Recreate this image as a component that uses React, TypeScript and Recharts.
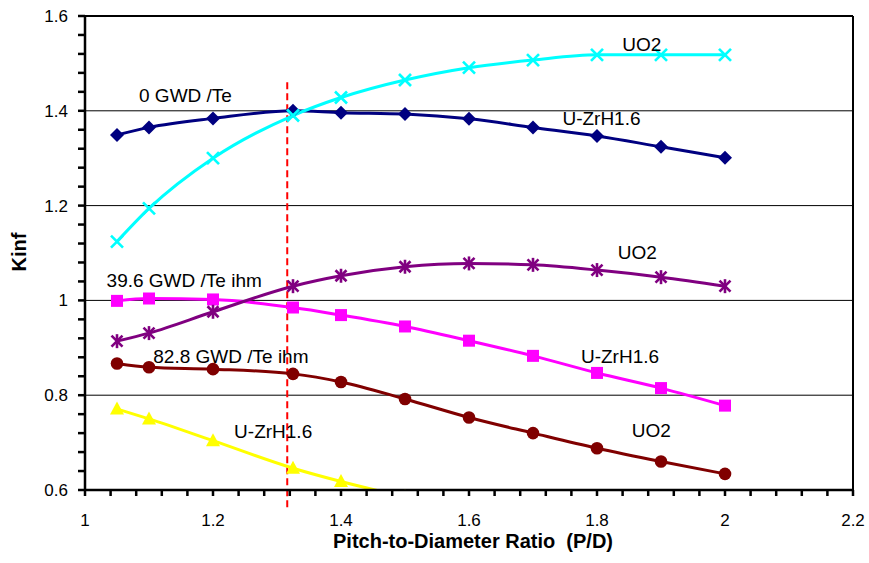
import React from 'react';
import { LineChart, Line, XAxis, YAxis, ReferenceLine, ReferenceDot } from 'recharts';

const FONT = '"Liberation Sans", Arial, Helvetica, sans-serif';

// P/D values
const pitchRatios = [1.05, 1.1, 1.2, 1.325, 1.4, 1.5, 1.6, 1.7, 1.8, 1.9, 2.0];
// 0 GWD/Te
const uzrh0 = [1.349, 1.365, 1.384, 1.400, 1.396, 1.393, 1.383, 1.365, 1.347, 1.324, 1.301];
const uo20 = [1.124, 1.194, 1.300, 1.390, 1.428, 1.465, 1.491, 1.507, 1.518, 1.518, 1.518];
// 39.6 GWD/Te ihm
const uzrh396 = [0.999, 1.004, 1.002, 0.985, 0.969, 0.945, 0.915, 0.883, 0.847, 0.815, 0.778];
const uo2396 = [0.914, 0.931, 0.976, 1.030, 1.052, 1.071, 1.078, 1.075, 1.064, 1.049, 1.030];
// 82.8 GWD/Te ihm
const uo2828 = [0.867, 0.859, 0.855, 0.845, 0.828, 0.792, 0.753, 0.720, 0.688, 0.660, 0.634];
const uzrh828 = [0.771, 0.750, 0.704, 0.646, 0.618, 0.585, null, null, null, null, null];

const xTicks = [1, 1.04, 1.08, 1.12, 1.16, 1.2, 1.24, 1.28, 1.32, 1.36, 1.4, 1.44, 1.48, 1.52, 1.56, 1.6,
  1.64, 1.68, 1.72, 1.76, 1.8, 1.84, 1.88, 1.92, 1.96, 2, 2.04, 2.08, 2.12, 2.16, 2.2];
const xMajor = [1, 1.2, 1.4, 1.6, 1.8, 2, 2.2];
const xLabels = ['1', '1.2', '1.4', '1.6', '1.8', '2', '2.2'];

const yTicks = [0.6, 0.64, 0.68, 0.72, 0.76, 0.8, 0.84, 0.88, 0.92, 0.96, 1, 1.04, 1.08, 1.12, 1.16, 1.2,
  1.24, 1.28, 1.32, 1.36, 1.4, 1.44, 1.48, 1.52, 1.56, 1.6];
const yMajor = [0.6, 0.8, 1, 1.2, 1.4, 1.6];
const yLabels = ['0.6', '0.8', '1', '1.2', '1.4', '1.6'];

const gridValues = [0.8, 1.0, 1.2, 1.4];
const markerLine = 1.316;
const markerLineSpan = [1.46, 0.558];

const annotations = [
  { text: '0 GWD /Te', x: 1.157, y: 1.433 },
  { text: 'UO2', x: 1.870, y: 1.540 },
  { text: 'U-ZrH1.6', x: 1.807, y: 1.385 },
  { text: 'UO2', x: 1.863, y: 1.101 },
  { text: '39.6 GWD /Te ihm', x: 1.155, y: 1.042 },
  { text: 'U-ZrH1.6', x: 1.836, y: 0.882 },
  { text: '82.8 GWD /Te ihm', x: 1.228, y: 0.883 },
  { text: 'UO2', x: 1.885, y: 0.725 },
  { text: 'U-ZrH1.6', x: 1.294, y: 0.723 },
];

const data = pitchRatios.map((x, i) => ({
  x,
  uzrh0: uzrh0[i],
  uo20: uo20[i],
  uzrh396: uzrh396[i],
  uo2396: uo2396[i],
  uo2828: uo2828[i],
  uzrh828: uzrh828[i],
}));

const lookup = (majors: number[], labels: string[], v: number) => {
  const idx = majors.findIndex((m) => Math.abs(m - v) < 1e-6);
  return idx >= 0 ? labels[idx] : '';
};

const XTick = (props: any) => {
  const { x, y, payload } = props;
  const label = lookup(xMajor, xLabels, payload.value);
  return (
    <g>
      <rect x={x - 1.25} y={y} width={2.5} height={6} fill="#000" />
      {label ? (
        <text x={x} y={y + 36} textAnchor="middle" fontSize={17} fill="#000" fontFamily={FONT}>
          {label}
        </text>
      ) : null}
    </g>
  );
};

const YTick = (props: any) => {
  const { x, y, payload } = props;
  const label = lookup(yMajor, yLabels, payload.value);
  return (
    <g>
      <rect x={x - 7} y={y - 1.25} width={7} height={2.5} fill="#000" />
      {label ? (
        <text x={x - 17} y={y + 6} textAnchor="end" fontSize={17} fill="#000" fontFamily={FONT}>
          {label}
        </text>
      ) : null}
    </g>
  );
};

type Shape = 'diamond' | 'x' | 'square' | 'asterisk' | 'circle' | 'triangle';

const makeDot = (shape: Shape, color: string) => (props: any) => {
  const { cx, cy, index } = props;
  const key = `d-${shape}-${index}`;
  if (cx == null || cy == null || isNaN(cx) || isNaN(cy)) return <g key={key} />;
  switch (shape) {
    case 'diamond':
      return (
        <polygon key={key} points={`${cx},${cy - 7} ${cx + 7},${cy} ${cx},${cy + 7} ${cx - 7},${cy}`} fill={color} />
      );
    case 'x':
      return (
        <g key={key} stroke={color} strokeWidth={2.6}>
          <line x1={cx - 6} y1={cy - 6} x2={cx + 6} y2={cy + 6} />
          <line x1={cx - 6} y1={cy + 6} x2={cx + 6} y2={cy - 6} />
        </g>
      );
    case 'square':
      return <rect key={key} x={cx - 6} y={cy - 6} width={12} height={12} fill={color} />;
    case 'asterisk':
      return (
        <g key={key} stroke={color} strokeWidth={2.6}>
          <line x1={cx - 5.5} y1={cy - 5.5} x2={cx + 5.5} y2={cy + 5.5} />
          <line x1={cx - 5.5} y1={cy + 5.5} x2={cx + 5.5} y2={cy - 5.5} />
          <line x1={cx} y1={cy - 7} x2={cx} y2={cy + 7} />
        </g>
      );
    case 'circle':
      return <circle key={key} cx={cx} cy={cy} r={6.3} fill={color} />;
    case 'triangle':
    default:
      return (
        <polygon key={key} points={`${cx},${cy - 7.5} ${cx + 7},${cy + 5.5} ${cx - 7},${cy + 5.5}`} fill={color} />
      );
  }
};

const series: { key: string; color: string; shape: Shape }[] = [
  { key: 'uzrh0', color: '#000080', shape: 'diamond' },
  { key: 'uo20', color: '#00FFFF', shape: 'x' },
  { key: 'uzrh396', color: '#FF00FF', shape: 'square' },
  { key: 'uo2396', color: '#800080', shape: 'asterisk' },
  { key: 'uo2828', color: '#800000', shape: 'circle' },
  { key: 'uzrh828', color: '#FFFF00', shape: 'triangle' },
];

const XTitle = (props: any) => {
  const vb = props.viewBox || { x: 85, y: 490, width: 768, height: 73 };
  return (
    <text
      x={vb.x + vb.width / 2 + 4}
      y={vb.y + vb.height - 15}
      textAnchor="middle"
      fontSize={20}
      fontWeight="bold"
      fontFamily={FONT}
      fill="#000"
    >
      {'Pitch-to-Diameter Ratio\u00A0 (P/D)'}
    </text>
  );
};

const YTitle = (props: any) => {
  const vb = props.viewBox || { x: 0, y: 16, width: 85, height: 474 };
  const x = vb.x + 26;
  const y = vb.y + vb.height / 2 - 1;
  return (
    <text
      x={x}
      y={y}
      transform={`rotate(-90, ${x}, ${y})`}
      textAnchor="middle"
      fontSize={20}
      fontWeight="bold"
      fontFamily={FONT}
      fill="#000"
    >
      Kinf
    </text>
  );
};

export default function App() {
  return (
    <div style={{ position: 'absolute', left: 0, top: 0, width: 869, height: 563, background: '#fff' }}>
      <LineChart width={869} height={563} data={data} margin={{ top: 16, right: 16, bottom: 0, left: 0 }}>
        <XAxis
          dataKey="x"
          type="number"
          domain={[1, 2.2]}
          ticks={xTicks}
          interval={0}
          allowDataOverflow
          tickSize={0}
          tickMargin={0}
          height={73}
          axisLine={{ stroke: '#000', strokeWidth: 2.5 }}
          tickLine={false}
          tick={XTick}
          label={XTitle}
        />
        <YAxis
          type="number"
          domain={[0.6, 1.6]}
          ticks={yTicks}
          interval={0}
          allowDataOverflow
          tickSize={0}
          tickMargin={0}
          width={85}
          axisLine={{ stroke: '#000', strokeWidth: 2.5 }}
          tickLine={false}
          tick={YTick}
          label={YTitle}
        />
        {gridValues.map((v) => (
          <ReferenceLine key={`g-${v}`} y={v} stroke="#000" strokeWidth={1} />
        ))}
        <ReferenceLine y={1.6} stroke="#000" strokeWidth={2} />
        <ReferenceLine x={2.2} stroke="#000" strokeWidth={2} />
        <ReferenceLine
          segment={[
            { x: markerLine, y: markerLineSpan[0] },
            { x: markerLine, y: markerLineSpan[1] },
          ]}
          ifOverflow="visible"
          stroke="#FF0000"
          strokeWidth={2}
          strokeDasharray="7 4"
        />
        {series.map((s) => (
          <Line
            key={s.key}
            dataKey={s.key}
            type="monotone"
            stroke={s.color}
            strokeWidth={3}
            dot={makeDot(s.shape, s.color)}
            activeDot={false}
            isAnimationActive={false}
            connectNulls={false}
          />
        ))}
        {annotations.map((a, i) => (
          <ReferenceDot
            key={`a-${i}`}
            x={a.x}
            y={a.y}
            r={1}
            fill="none"
            stroke="none"
            label={{ value: a.text, position: 'center', fontSize: 19, fill: '#000', fontFamily: FONT }}
          />
        ))}
      </LineChart>
    </div>
  );
}
